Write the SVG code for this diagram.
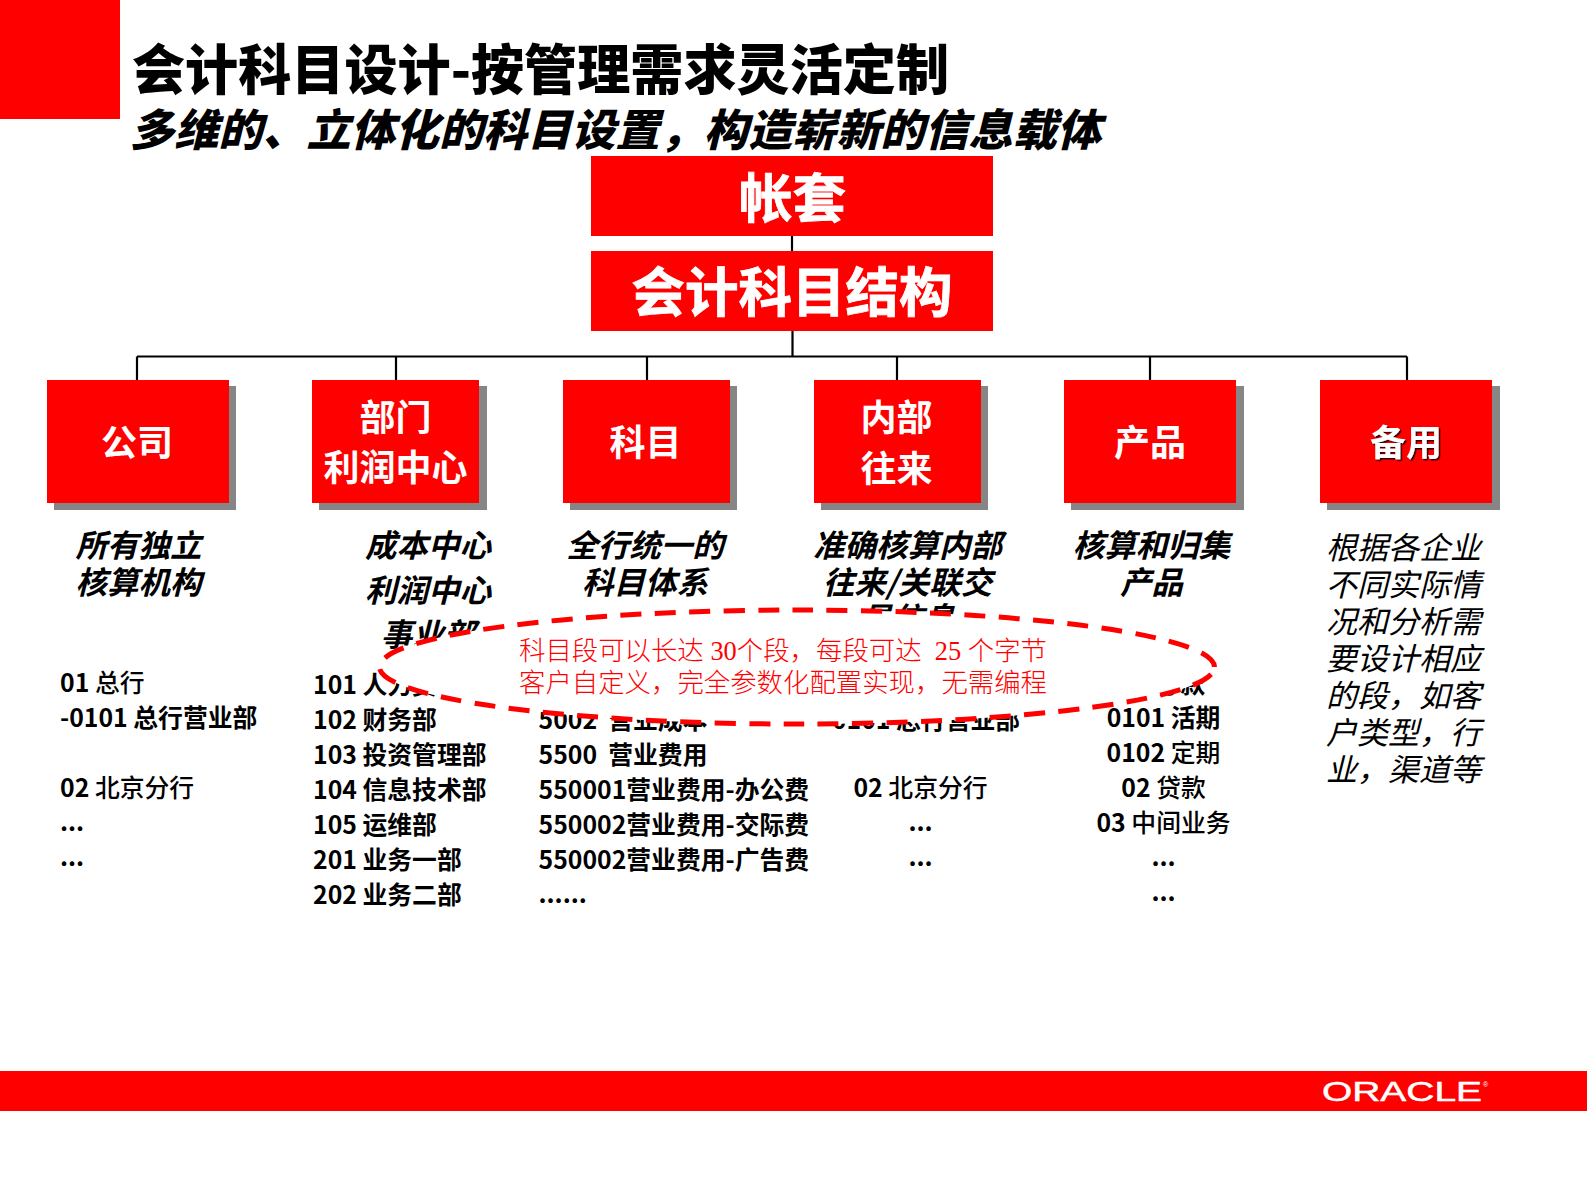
<svg xmlns="http://www.w3.org/2000/svg" width="1587" height="1190" viewBox="0 0 1587 1190">
<defs><filter id="ts" x="-10%" y="-10%" width="120%" height="120%"><feDropShadow dx="1.500" dy="1.500" stdDeviation=".4" flood-color="#300"/></filter></defs>
<style>
text{font-family:"Noto Sans CJK SC","Noto Sans",sans-serif;white-space:pre}
.box{fill:#f00}
.sh{fill:#868686}
.w{fill:#fff;font-weight:700;text-anchor:middle;font-size:36px}
.big{font-size:53.5px;font-weight:700;stroke:#fff;stroke-width:.8px}
.d{font-size:31.5px;font-weight:700;font-style:italic;text-anchor:middle;fill:#000}
.r{font-size:31px;font-style:italic;fill:#000;font-weight:400}
.l{font-size:24.800px;font-weight:700;fill:#000}
.c{text-anchor:middle}
.n{font-weight:500}
.con{stroke:#000;stroke-width:2.200;fill:none}
.red{font-size:26.4px;fill:#f00;font-weight:300;font-family:"Liberation Serif","Noto Sans CJK SC",serif}
</style>
<g id="corner"><rect class="box" x="0" y="0" width="120" height="119"/></g>
<g id="title">
<text x="132" y="90" font-size="54" font-weight="900" textLength="817" lengthAdjust="spacingAndGlyphs" fill="#000">会计科目设计-按管理需求灵活定制</text>
<text x="130" y="146" font-size="44" font-weight="900" font-style="italic" textLength="971" lengthAdjust="spacingAndGlyphs" fill="#000">多维的、立体化的科目设置，构造崭新的信息载体</text>
</g>
<g id="connectors" class="con">
<path d="M792 236V251M792.500 331V356.500M137 356.500H1407M137 356.500V380M396 356.500V380M647 356.500V380M897 356.500V380M1150 356.500V380M1407 356.500V380"/>
</g>
<g id="n-book"><rect class="box" x="591" y="156" width="402" height="80"/><text class="w big" x="792.500" y="218">帐套</text></g>
<g id="n-struct"><rect class="box" x="591" y="251" width="402" height="80"/><text class="w big" x="792" y="312">会计科目结构</text></g>

<g id="n-company"><rect class="sh" x="54" y="386" width="182" height="124"/><rect class="box" x="47" y="380" width="182" height="123"/><text class="w" x="137" y="455.500">公司</text></g>
<g id="n-dept"><rect class="sh" x="319" y="386" width="168" height="124"/><rect class="box" x="312" y="380" width="167" height="123"/><text class="w" x="395.500" y="430.500">部门</text><text class="w" x="395.500" y="481">利润中心</text></g>
<g id="n-account"><rect class="sh" x="570" y="386" width="167" height="124"/><rect class="box" x="563" y="380" width="167" height="123"/><text class="w" x="645.500" y="455.500">科目</text></g>
<g id="n-internal"><rect class="sh" x="821" y="386" width="167" height="124"/><rect class="box" x="814" y="380" width="167" height="123"/><text class="w" x="896.500" y="430.500">内部</text><text class="w" x="896.500" y="481.500">往来</text></g>
<g id="n-product"><rect class="sh" x="1071" y="386" width="173" height="124"/><rect class="box" x="1064" y="380" width="172" height="123"/><text class="w" x="1150" y="455.500">产品</text></g>
<g id="n-spare"><rect class="sh" x="1327" y="386" width="173" height="124"/><rect class="box" x="1320" y="380" width="172" height="123"/><text class="w" x="1406" y="455.500" filter="url(#ts)">备用</text></g>

<g id="desc-company"><text class="d" x="138.500" y="557">所有独立</text><text class="d" x="138.500" y="594">核算机构</text></g>
<g id="desc-dept"><text class="d" x="428" y="557">成本中心</text><text class="d" x="428" y="602">利润中心</text><text class="d" x="428" y="646">事业部</text></g>
<g id="desc-account"><text class="d" x="645" y="557">全行统一的</text><text class="d" x="645" y="594">科目体系</text></g>
<g id="desc-internal"><text class="d" x="907.500" y="557">准确核算内部</text><text class="d" x="907.500" y="594">往来/关联交</text><text class="d" x="907.500" y="630">易信息</text></g>
<g id="desc-product"><text class="d" x="1151.500" y="557">核算和归集</text><text class="d" x="1151.500" y="594">产品</text></g>
<g id="desc-spare"><text class="r" x="1326" y="559">根据各企业</text><text class="r" x="1326" y="596">不同实际情</text><text class="r" x="1326" y="633">况和分析需</text><text class="r" x="1326" y="670">要设计相应</text><text class="r" x="1326" y="707">的段，如客</text><text class="r" x="1326" y="744">户类型，行</text><text class="r" x="1326" y="781">业，渠道等</text></g>

<g id="list-company">
<text class="l" x="60" y="691.500">01 <tspan class="n">总行</tspan></text>
<text class="l" x="60" y="726.500">-0101 总行营业部</text>
<text class="l" x="60" y="796.500">02 <tspan class="n">北京分行</tspan></text>
<text class="l" x="60" y="831">...</text>
<text class="l" x="60" y="866">...</text>
</g>
<g id="list-dept">
<text class="l" x="313" y="694">101 人力资源部</text>
<text class="l" x="313" y="729">102 财务部</text>
<text class="l" x="313" y="764">103 投资管理部</text>
<text class="l" x="313" y="798.500">104 信息技术部</text>
<text class="l" x="313" y="833.500">105 运维部</text>
<text class="l" x="313" y="868.500">201 业务一部</text>
<text class="l" x="313" y="903.500">202 业务二部</text>
</g>
<g id="list-account">
<text class="l" x="538.500" y="729">5002  营业成本</text>
<text class="l" x="538.500" y="763.500">5500  营业费用</text>
<text class="l" x="538.500" y="798.500">550001营业费用-办公费</text>
<text class="l" x="538.500" y="833.500">550002营业费用-交际费</text>
<text class="l" x="538.500" y="868.500">550002营业费用-广告费</text>
<text class="l" x="538.500" y="903">......</text>
</g>
<g id="list-internal">
<text class="l c" x="926" y="729">0101 总行营业部</text>
<text class="l c" x="920.500" y="796.500">02 <tspan class="n">北京分行</tspan></text>
<text class="l c" x="920.500" y="831">...</text>
<text class="l c" x="920.500" y="866">...</text>
</g>
<g id="list-product">
<text class="l c" x="1163" y="693">01 存款</text>
<text class="l c" x="1163.500" y="726.500">0101 活期</text>
<text class="l c" x="1163.500" y="761.500">0102 <tspan class="n">定期</tspan></text>
<text class="l c" x="1163.500" y="796.500">02 <tspan class="n">贷款</tspan></text>
<text class="l c" x="1163.500" y="831.500">03 <tspan class="n">中间业务</tspan></text>
<text class="l c" x="1163.500" y="866">...</text>
<text class="l c" x="1163.500" y="901">...</text>
</g>

<g id="callout">
<ellipse cx="797" cy="667" rx="417.500" ry="57" fill="#fff" stroke="#f00" stroke-width="5" stroke-dasharray="21 13.400" stroke-dashoffset="26"/>
<text class="red" x="519" y="660" textLength="528">科目段可以长达 30个段，每段可达  25 个字节</text>
<text class="red" x="519" y="692" textLength="528">客户自定义，完全参数化配置实现，无需编程</text>
</g>
<g id="footer">
<rect class="box" x="0" y="1071" width="1587" height="40"/>
<text x="1322" y="1101" font-size="28" textLength="160" lengthAdjust="spacingAndGlyphs" fill="#fff" stroke="#fff" stroke-width=".5" style="font-family:'Liberation Sans',sans-serif">ORACLE</text>
<text x="1483" y="1087" font-size="7" fill="#fff" style="font-family:'Liberation Sans',sans-serif">®</text>
</g>
</svg>
